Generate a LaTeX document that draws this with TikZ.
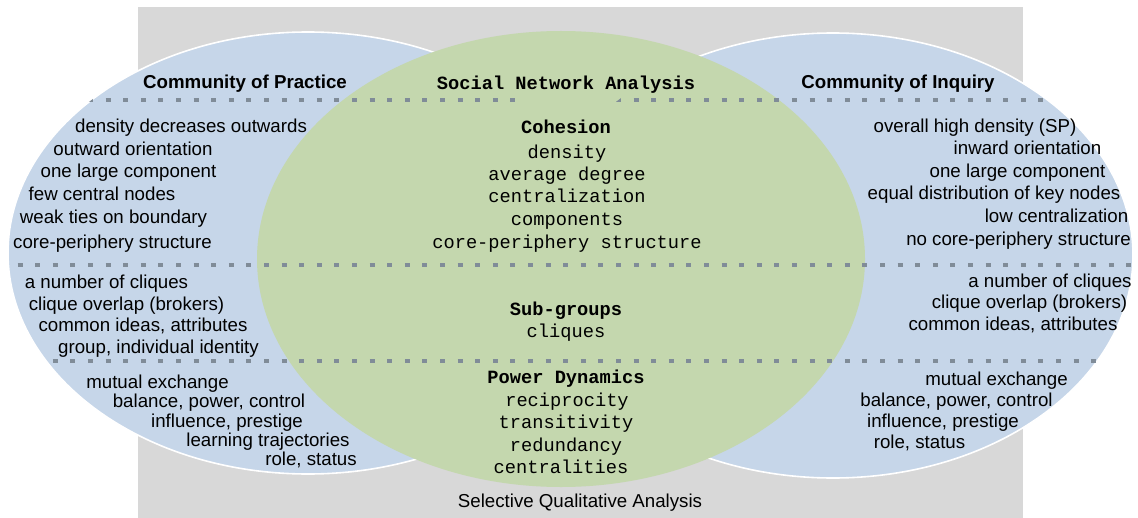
\documentclass[tikz,border=0pt]{standalone}
\usepackage{fontspec}
\setmainfont{Liberation Sans}
\setmonofont{Liberation Mono}
\usepackage{xcolor}
\definecolor{backgray}{RGB}{216,216,216}
\definecolor{commblue}{RGB}{198,214,233}
\definecolor{snagreen}{RGB}{196,215,174}
\definecolor{dotgray}{RGB}{128,140,152}

\tikzset{
  txt/.style={inner sep=0pt,text height=0.72em,text depth=0.2em,
    font=\fontsize{9.35}{11.5}\selectfont},
  hd/.style={txt,font=\fontsize{9.35}{11.5}\selectfont\bfseries},
  mono/.style={txt,font=\fontsize{9.35}{11.5}\selectfont\ttfamily},
  monohd/.style={txt,font=\fontsize{9.35}{11.5}\selectfont\ttfamily\bfseries},
  divider/.style={dotgray,line width=2pt,dash pattern=on 2.5pt off 6.3pt}
}

\begin{document}
\begin{tikzpicture}[x=0.5pt,y=-0.5pt]
    \useasboundingbox (0,0) rectangle (1138,518);
    \fill[backgray] (138,7) rectangle (1023,518);

    % the three fields
    \filldraw[fill=commblue,draw=white,line width=0.8pt] (308,253) ellipse [x radius=300,y radius=221];
    \filldraw[fill=commblue,draw=white,line width=0.8pt] (833,255.5) ellipse [x radius=300,y radius=222.5];
    \fill[snagreen] (561,259) ellipse [x radius=304,y radius=228];

    \begin{scope}
      \clip (308,253) ellipse [x radius=300,y radius=221]
            (833,255.5) ellipse [x radius=300,y radius=222.5];
      \draw[divider] (0,100) -- (1138,100);
      \draw[divider] (0,265) -- (1138,265);
      \draw[divider] (0,361) -- (1138,361);
    \end{scope}

    % headings
    \node[hd] (cop) at (245,83) {Community of Practice};
    \node[monohd] (sna) at (566,84) {Social Network Analysis};
    \node[hd] (coi) at (898,83) {Community of Inquiry};

    % community of practice
    \node[txt] (cop1) at (191,127) {density decreases outwards};
    \node[txt] (cop2) at (133,150) {outward orientation};
    \node[txt] (cop3) at (128.5,172) {one large component};
    \node[txt] (cop4) at (102,195) {few central nodes};
    \node[txt] (cop5) at (113.5,218) {weak ties on boundary};
    \node[txt] (cop6) at (112.5,243) {core-periphery structure};
    \node[txt] (cop7) at (106.5,283) {a number of cliques};
    \node[txt] (cop8) at (126.5,305) {clique overlap (brokers)};
    \node[txt] (cop9) at (143,326) {common ideas, attributes};
    \node[txt] (cop10) at (158.5,348) {group, individual identity};
    \node[txt] (cop11) at (157.5,383) {mutual exchange};
    \node[txt] (cop12) at (209,402) {balance, power, control};
    \node[txt] (cop13) at (227,422) {influence, prestige};
    \node[txt] (cop14) at (268,441) {learning trajectories};
    \node[txt] (cop15) at (311,460) {role, status};

    % social network analysis
    \node[monohd] (coh) at (566,128) {Cohesion};
    \node[mono] (coh1) at (567,153) {density};
    \node[mono] (coh2) at (567,175) {average degree};
    \node[mono] (coh3) at (567,197) {centralization};
    \node[mono] (coh4) at (567,220) {components};
    \node[mono] (coh5) at (567,243) {core-periphery structure};
    \node[monohd] (sub) at (566,310) {Sub-groups};
    \node[mono] (sub1) at (566,332) {cliques};
    \node[monohd] (pow) at (566,378) {Power Dynamics};
    \node[mono] (pow1) at (567,401) {reciprocity};
    \node[mono] (pow2) at (566,423) {transitivity};
    \node[mono] (pow3) at (566,446) {redundancy};
    \node[mono] (pow4) at (561,468) {centralities};
    \node[txt] (sqa) at (580,502) {Selective Qualitative Analysis};

    % community of inquiry
    \node[txt] (coi1) at (975,127) {overall high density (SP)};
    \node[txt] (coi2) at (1027.5,149) {inward orientation};
    \node[txt] (coi3) at (1017.5,172) {one large component};
    \node[txt] (coi4) at (994,194) {equal distribution of key nodes};
    \node[txt] (coi5) at (1056.5,217) {low centralization};
    \node[txt] (coi6) at (1018.5,240) {no core-periphery structure};
    \node[txt] (coi7) at (1050,282) {a number of cliques};
    \node[txt] (coi8) at (1029.5,303) {clique overlap (brokers)};
    \node[txt] (coi9) at (1013,325) {common ideas, attributes};
    \node[txt] (coi10) at (996.5,380) {mutual exchange};
    \node[txt] (coi11) at (956.5,401) {balance, power, control};
    \node[txt] (coi12) at (943,422) {influence, prestige};
    \node[txt] (coi13) at (919.5,443) {role, status};
\end{tikzpicture}
\end{document}
